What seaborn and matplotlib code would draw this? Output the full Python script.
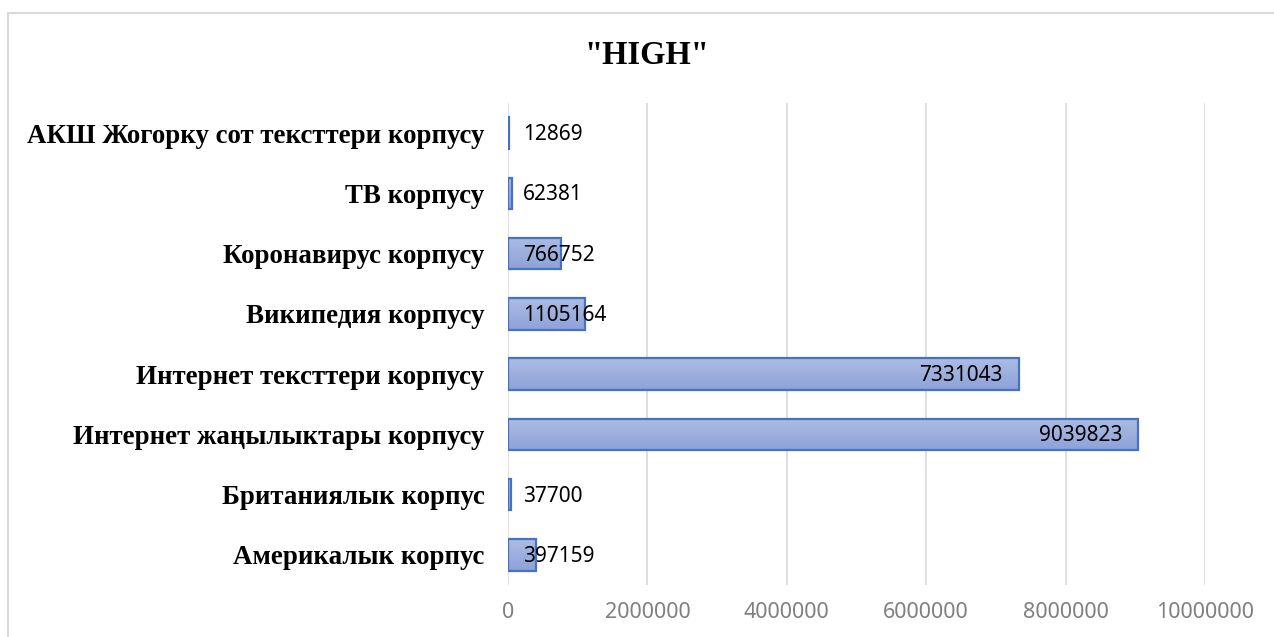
import numpy as np
import pandas as pd
import matplotlib
matplotlib.use("Agg")
import matplotlib.pyplot as plt
import seaborn as sns
from matplotlib.patches import Rectangle
from matplotlib.colors import LinearSegmentedColormap

# Corpus sizes for "HIGH"
categories = [
    "АКШ Жогорку сот тексттери корпусу",
    "ТВ корпусу",
    "Коронавирус корпусу",
    "Википедия корпусу",
    "Интернет тексттери корпусу",
    "Интернет жаңылыктары корпусу",
    "Британиялык корпус",
    "Америкалык корпус",
]
values = [12869, 62381, 766752, 1105164, 7331043, 9039823, 37700, 397159]
x_ticks = [0, 2000000, 4000000, 6000000, 8000000, 10000000]
title = '"HIGH"'

sns.set_theme(style="white")
plt.rcParams["font.family"] = ["Liberation Serif", "DejaVu Serif"]

W, H = 1274, 637
fig = plt.figure(figsize=(W / 100, H / 100), dpi=100)
fig.patch.set_facecolor("white")

# light frame around the chart area
fig.add_artist(Rectangle((8 / W, -0.2), 1.2, 1.2 - 13 / H, transform=fig.transFigure,
                         fill=False, edgecolor="#d9d9d9", linewidth=1.5))

ax = fig.add_axes([508 / W, 1 - 585 / H, (1205 - 508) / W, 482 / H])
df = pd.DataFrame({"corpus": categories, "count": values})
sns.barplot(data=df, x="count", y="corpus", order=categories, orient="h",
            color="#9aaddd", edgecolor="#4472c4", linewidth=1.6, width=0.52,
            ax=ax, zorder=3)

ax.set_xlim(0, x_ticks[-1])
ax.set_ylim(len(categories) - 0.5, -0.5)

# vertical gradient fill clipped to each bar
cmap = LinearSegmentedColormap.from_list("barfill", ["#adbce3", "#8da2d8"])
grad = np.linspace(0, 1, 64).reshape(-1, 1)
for p in ax.patches:
    x0, y0, w, h = p.get_x(), p.get_y(), p.get_width(), p.get_height()
    im = ax.imshow(grad, cmap=cmap, aspect="auto", origin="upper",
                   extent=(x0, x0 + w, y0 + h, y0), zorder=2.5,
                   interpolation="bilinear")
    im.set_clip_path(p)
    p.set_facecolor("none")
ax.set_xlim(0, x_ticks[-1])
ax.set_ylim(len(categories) - 0.5, -0.5)

ax.set_xticks(x_ticks)
ax.set_xticklabels([str(t) for t in x_ticks], fontfamily="Noto Sans",
                   fontsize=15.5, color="#808080")
ax.tick_params(axis="x", length=0, pad=12)
ax.tick_params(axis="y", length=0, pad=17)
for lbl in ax.get_yticklabels():
    lbl.set_fontweight("bold")
    lbl.set_fontsize(19.4)
    lbl.set_color("black")

ax.grid(axis="x", color="#d9d9d9", linewidth=1.2, zorder=0)
ax.grid(axis="y", visible=False)
for s in ax.spines.values():
    s.set_visible(False)
ax.set_xlabel("")
ax.set_ylabel("")

# value labels: inside end when the bar is wide enough, otherwise from the base
fig.canvas.draw()
renderer = fig.canvas.get_renderer()
for i, v in enumerate(values):
    t = ax.annotate(str(v), (v, i), xytext=(-11.5, -1), textcoords="offset points",
                    ha="right", va="center", fontsize=15, fontfamily="Noto Sans",
                    color="black", zorder=5)
    tw = t.get_window_extent(renderer).width
    bar_px = ax.transData.transform((v, 0))[0] - ax.transData.transform((0, 0))[0]
    if bar_px < tw + 32:
        t.remove()
        ax.annotate(str(v), (0, i), xytext=(11, -1), textcoords="offset points",
                    ha="left", va="center", fontsize=15, fontfamily="Noto Sans",
                    color="black", zorder=5)

fig.text(647 / W, 1 - 55 / H, title, ha="center", va="center",
         fontsize=23.5, fontweight="bold", color="black")

fig.savefig("out.png", dpi=100, facecolor="white")
